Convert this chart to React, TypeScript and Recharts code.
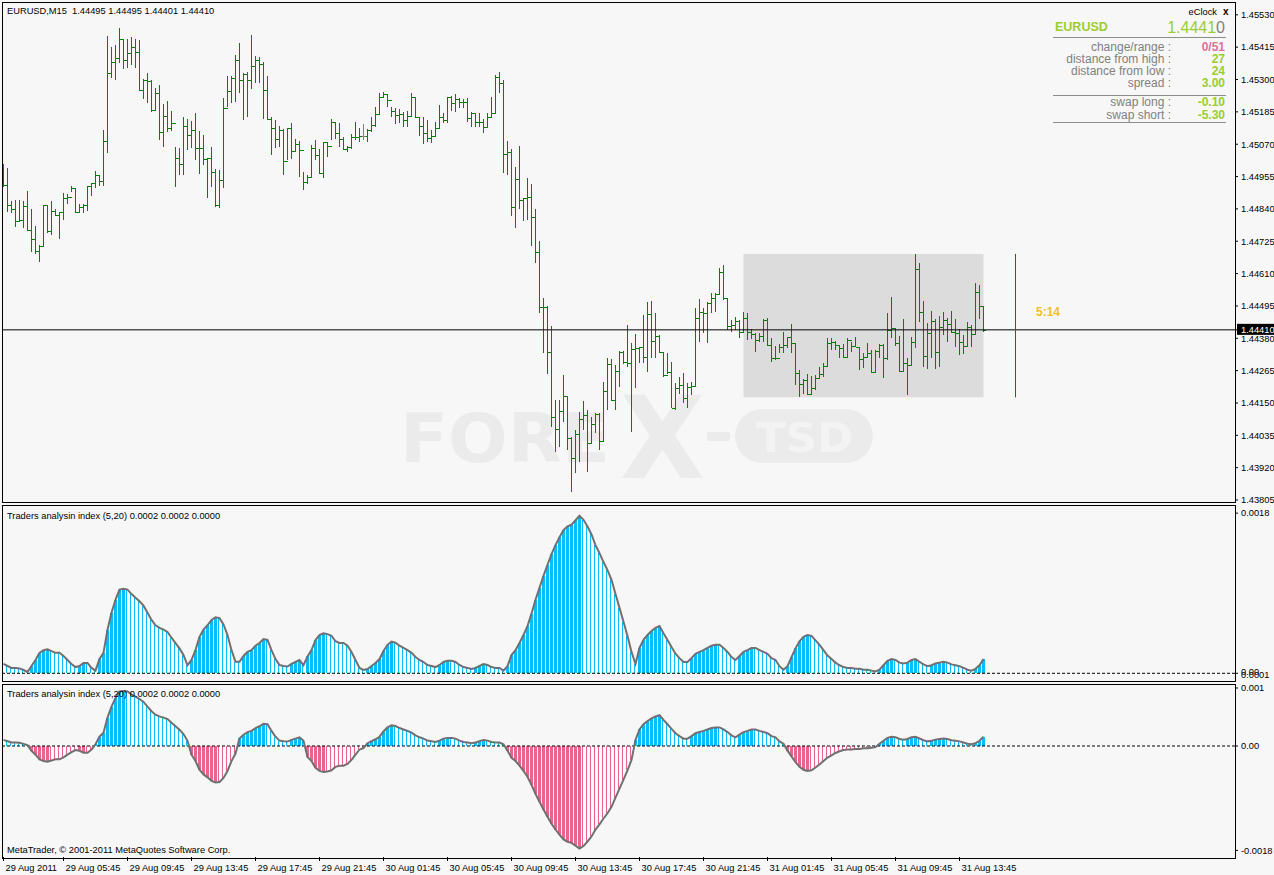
import React from 'react';
import { ComposedChart, Bar, Line, XAxis, YAxis, ReferenceLine, ReferenceArea } from 'recharts';

const FONT = "'Liberation Sans', Arial, sans-serif";

// EURUSD M15, 29 Aug 2011 02:00 .. 31 Aug 2011 15:15 (open = previous close)
const firstOpen = 1.4496;
const highs = [
  1.44999, 1.44987, 1.44868, 1.44872, 1.44872, 1.44868, 1.44904, 1.4484, 1.44779, 1.44712,
  1.44854, 1.44854, 1.44868, 1.44841, 1.44828, 1.44898, 1.44893, 1.44923, 1.44915, 1.44857,
  1.44856, 1.44921, 1.44931, 1.44975, 1.44959, 1.45121, 1.45455, 1.45417, 1.45423, 1.45482,
  1.45444, 1.45444, 1.45452, 1.45444, 1.45441, 1.45301, 1.45322, 1.45298, 1.45269, 1.45281,
  1.45213, 1.45224, 1.45188, 1.45061, 1.45058, 1.45166, 1.45159, 1.45154, 1.4518, 1.45117,
  1.45103, 1.4502, 1.45061, 1.44982, 1.44978, 1.45233, 1.45313, 1.45313, 1.45387, 1.45429,
  1.45322, 1.45328, 1.45459, 1.45384, 1.45381, 1.45361, 1.45313, 1.45168, 1.45156, 1.45135,
  1.45123, 1.45129, 1.45146, 1.45088, 1.45082, 1.44972, 1.44961, 1.45067, 1.45085, 1.45052,
  1.45079, 1.45073, 1.45159, 1.4515, 1.45144, 1.45097, 1.45064, 1.45106, 1.4515, 1.45127,
  1.45142, 1.45124, 1.45166, 1.45204, 1.45251, 1.45255, 1.45249, 1.45204, 1.45198, 1.45194,
  1.45186, 1.45189, 1.45253, 1.45237, 1.45166, 1.45168, 1.45156, 1.45121, 1.4515, 1.4521,
  1.45182, 1.45239, 1.45242, 1.45248, 1.45233, 1.4523, 1.45233, 1.45186, 1.45182, 1.4518,
  1.45159, 1.4518, 1.45239, 1.45316, 1.45326, 1.45298, 1.45082, 1.45052, 1.4499, 1.45064,
  1.4488, 1.44951, 1.44929, 1.4484, 1.44726, 1.44522, 1.44495, 1.44424, 1.4416, 1.4416,
  1.44249, 1.44175, 1.4403, 1.44054, 1.44119, 1.44157, 1.44125, 1.44099, 1.44115, 1.44115,
  1.44223, 1.44309, 1.44305, 1.44285, 1.44335, 1.44335, 1.44427, 1.44362, 1.44395, 1.4435,
  1.44463, 1.4451, 1.44513, 1.44469, 1.44392, 1.44326, 1.44326, 1.44297, 1.4422, 1.44243,
  1.44255, 1.44222, 1.44225, 1.44486, 1.44518, 1.44486, 1.4451, 1.4454, 1.4454, 1.44629,
  1.4464, 1.44522, 1.44445, 1.44454, 1.44445, 1.44474, 1.44471, 1.44412, 1.444, 1.44398,
  1.44447, 1.44451, 1.44382, 1.44352, 1.44358, 1.44403, 1.44385, 1.44431, 1.44364, 1.44267,
  1.44234, 1.44253, 1.44246, 1.44249, 1.44279, 1.44291, 1.4438, 1.4438, 1.44371, 1.44356,
  1.44359, 1.4438, 1.44368, 1.44385, 1.4435, 1.44329, 1.44362, 1.44338, 1.44338, 1.44358,
  1.44359, 1.44471, 1.44528, 1.44415, 1.44388, 1.44447, 1.44309, 1.44385, 1.4468, 1.44647,
  1.44514, 1.44435, 1.44478, 1.44447, 1.44459, 1.44474, 1.44451, 1.44478, 1.44447, 1.44412,
  1.44392, 1.44439, 1.44427, 1.44578, 1.44569, 1.44495,
];
const lows = [
  1.44919, 1.4483, 1.44824, 1.44775, 1.44793, 1.44771, 1.44762, 1.44688, 1.4468, 1.44652,
  1.44709, 1.44753, 1.44747, 1.44815, 1.44733, 1.44801, 1.44856, 1.44899, 1.44826, 1.44824,
  1.44826, 1.44834, 1.44887, 1.44913, 1.44922, 1.44922, 1.4504, 1.45305, 1.45298, 1.45358,
  1.45337, 1.4534, 1.45352, 1.4534, 1.4526, 1.4523, 1.45216, 1.45186, 1.45189, 1.45085,
  1.45061, 1.45115, 1.45117, 1.44919, 1.44961, 1.44961, 1.45049, 1.45056, 1.45014, 1.44963,
  1.44996, 1.44878, 1.44919, 1.44848, 1.44842, 1.44913, 1.45201, 1.45216, 1.45221, 1.45251,
  1.45156, 1.45168, 1.45265, 1.45287, 1.45287, 1.4516, 1.45156, 1.45032, 1.45058, 1.45061,
  1.44961, 1.45014, 1.45016, 1.45043, 1.44955, 1.44907, 1.44929, 1.44955, 1.45014, 1.44963,
  1.44949, 1.45026, 1.45085, 1.45088, 1.45059, 1.45049, 1.45042, 1.45052, 1.45085, 1.45079,
  1.45085, 1.45079, 1.45115, 1.45132, 1.45174, 1.45233, 1.45204, 1.45168, 1.45141, 1.45144,
  1.45132, 1.4513, 1.45168, 1.45163, 1.45099, 1.4507, 1.45079, 1.45073, 1.45099, 1.45127,
  1.45144, 1.45147, 1.45189, 1.45186, 1.45198, 1.45198, 1.4515, 1.45132, 1.4513, 1.45132,
  1.45111, 1.45127, 1.45166, 1.4518, 1.45251, 1.44969, 1.44961, 1.44816, 1.44771, 1.4484,
  1.44798, 1.44801, 1.44709, 1.44647, 1.44471, 1.44329, 1.44253, 1.44063, 1.43976, 1.43994,
  1.44083, 1.43983, 1.43834, 1.439, 1.43941, 1.44054, 1.43905, 1.44006, 1.44042, 1.43983,
  1.44012, 1.44125, 1.44157, 1.44125, 1.44208, 1.44288, 1.44279, 1.44048, 1.44202, 1.44291,
  1.44291, 1.44261, 1.44309, 1.44309, 1.44328, 1.44243, 1.44253, 1.44131, 1.44125, 1.44181,
  1.44149, 1.44131, 1.44178, 1.44208, 1.44368, 1.44398, 1.44362, 1.44469, 1.44474, 1.44534,
  1.44516, 1.44409, 1.44403, 1.44409, 1.4438, 1.44398, 1.44374, 1.44377, 1.44332, 1.44366,
  1.44368, 1.44352, 1.44297, 1.44303, 1.44326, 1.44326, 1.44344, 1.44326, 1.44214, 1.4417,
  1.44182, 1.44178, 1.44181, 1.44196, 1.44238, 1.44243, 1.44279, 1.44338, 1.44338, 1.44309,
  1.44309, 1.44314, 1.44332, 1.44348, 1.44267, 1.44273, 1.44309, 1.44256, 1.44255, 1.44309,
  1.44238, 1.44303, 1.4438, 1.44352, 1.44261, 1.44261, 1.44178, 1.44285, 1.44344, 1.44439,
  1.44279, 1.4427, 1.44309, 1.4427, 1.44279, 1.44392, 1.44368, 1.44398, 1.44348, 1.4432,
  1.44323, 1.4435, 1.4435, 1.44392, 1.44447, 1.44401,
];
const closes = [
  1.44925, 1.44854, 1.44839, 1.44797, 1.44801, 1.4485, 1.44765, 1.44732, 1.4469, 1.44709,
  1.44854, 1.44762, 1.44833, 1.44818, 1.44828, 1.44878, 1.44883, 1.44915, 1.4483, 1.44848,
  1.44854, 1.44921, 1.44931, 1.44959, 1.44939, 1.45082, 1.45322, 1.45364, 1.45378, 1.45443,
  1.4537, 1.45393, 1.45417, 1.45397, 1.45263, 1.45298, 1.45295, 1.45192, 1.45251, 1.45112,
  1.45171, 1.45129, 1.45144, 1.4502, 1.44999, 1.45135, 1.45103, 1.45121, 1.45056, 1.45058,
  1.45016, 1.4502, 1.4497, 1.44854, 1.44943, 1.45198, 1.45259, 1.45305, 1.4537, 1.45298,
  1.4532, 1.45298, 1.45348, 1.4537, 1.45354, 1.45263, 1.45159, 1.45127, 1.45089, 1.45121,
  1.4501, 1.45127, 1.45046, 1.45071, 1.45049, 1.44937, 1.44955, 1.45056, 1.45032, 1.44967,
  1.45077, 1.45064, 1.45148, 1.45109, 1.45088, 1.45052, 1.45059, 1.45095, 1.45097, 1.45099,
  1.45099, 1.45121, 1.45138, 1.45178, 1.45237, 1.45248, 1.45227, 1.45189, 1.45174, 1.45176,
  1.45156, 1.45171, 1.45237, 1.45166, 1.45135, 1.45109, 1.45091, 1.45099, 1.45129, 1.45168,
  1.45156, 1.45237, 1.45216, 1.4523, 1.45221, 1.45219, 1.45162, 1.4518, 1.45148, 1.4515,
  1.45132, 1.45168, 1.4518, 1.4531, 1.45289, 1.45034, 1.45043, 1.44848, 1.44946, 1.44872,
  1.44878, 1.44883, 1.4481, 1.44686, 1.4449, 1.44492, 1.4433, 1.44099, 1.44056, 1.44121,
  1.44175, 1.44024, 1.43955, 1.44038, 1.44092, 1.44107, 1.44008, 1.44074, 1.4411, 1.44016,
  1.44192, 1.44287, 1.4416, 1.44263, 1.44332, 1.44294, 1.44293, 1.44342, 1.44345, 1.4435,
  1.44314, 1.44466, 1.44371, 1.44389, 1.44332, 1.44249, 1.44261, 1.44133, 1.44202, 1.44214,
  1.44166, 1.44208, 1.44209, 1.44451, 1.44474, 1.44469, 1.44504, 1.44522, 1.44536, 1.44615,
  1.44522, 1.44424, 1.44426, 1.44441, 1.44403, 1.44452, 1.44403, 1.44395, 1.44375, 1.44388,
  1.44445, 1.44356, 1.44309, 1.44311, 1.44348, 1.44356, 1.44383, 1.44365, 1.44255, 1.44216,
  1.44231, 1.44181, 1.44202, 1.44238, 1.44253, 1.44281, 1.44364, 1.44366, 1.44356, 1.44344,
  1.44312, 1.44374, 1.44352, 1.4435, 1.44305, 1.44314, 1.44326, 1.44261, 1.44336, 1.44356,
  1.44309, 1.44409, 1.44415, 1.44362, 1.44265, 1.44291, 1.44285, 1.44366, 1.44626, 1.44474,
  1.44317, 1.44398, 1.44441, 1.4433, 1.44419, 1.44445, 1.4443, 1.44401, 1.444, 1.44368,
  1.44352, 1.44421, 1.44394, 1.44543, 1.44495, 1.4441,
];

// Traders analysin index (5,20), one value per bar
const tai = [
  1.05e-4, 0.82e-4, 0.6e-4, 0.6e-4, 0.55e-4, 0.37e-4, 0.15e-4, -0.82e-4, -1.5e-4, -2.3e-4,
  -2.6e-4, -2.7e-4, -2.5e-4, -2.3e-4, -2.3e-4, -1.95e-4, -1.5e-4, -1.05e-4, -0.7e-4, -0.82e-4,
  -1.16e-4, -1.16e-4, -0.6e-4, 0.3e-4, 1.6e-4, 2.3e-4, 4.9e-4, 6.8e-4, 8.25e-4, 9.4e-4,
  9.5e-4, 9.4e-4, 8.9e-4, 8.5e-4, 8.1e-4, 7.6e-4, 6.8e-4, 6.0e-4, 5.4e-4, 5.1e-4,
  4.9e-4, 4.65e-4, 4.0e-4, 3.4e-4, 2.8e-4, 2.05e-4, 0.9e-4, -1.5e-4, -2.6e-4, -4.1e-4,
  -4.9e-4, -5.4e-4, -6.0e-4, -6.3e-4, -6.2e-4, -5.5e-4, -4.3e-4, -2.6e-4, -1.3e-4, 1.3e-4,
  1.95e-4, 2.4e-4, 2.6e-4, 3.1e-4, 3.4e-4, 3.85e-4, 3.75e-4, 2.6e-4, 1.6e-4, 0.93e-4,
  0.82e-4, 0.76e-4, 1.05e-4, 1.27e-4, 1.5e-4, 0.9e-4, -1.9e-4, -2.6e-4, -3.75e-4, -4.3e-4,
  -4.5e-4, -4.4e-4, -4.2e-4, -3.6e-4, -3.4e-4, -3.4e-4, -3.1e-4, -2.4e-4, -1.5e-4, -0.6e-4,
  -0.37e-4, 0.48e-4, 0.82e-4, 1.16e-4, 1.6e-4, 2.5e-4, 3.2e-4, 3.55e-4, 3.45e-4, 3.1e-4,
  2.85e-4, 2.6e-4, 2.3e-4, 1.83e-4, 1.5e-4, 1.27e-4, 0.93e-4, 0.82e-4, 0.7e-4, 0.93e-4,
  1.27e-4, 1.4e-4, 1.4e-4, 1.27e-4, 0.93e-4, 0.7e-4, 0.6e-4, 0.48e-4, 0.6e-4, 0.82e-4,
  1.05e-4, 0.93e-4, 0.7e-4, 0.6e-4, 0.6e-4, 0.3e-4, -0.8e-4, -2.05e-4, -2.6e-4, -3.4e-4,
  -4.3e-4, -5.3e-4, -6.7e-4, -8.25e-4, -9.6e-4, -10.95e-4, -12.2e-4, -13.4e-4, -14.4e-4, -15.3e-4,
  -16.1e-4, -16.5e-4, -16.7e-4, -17.2e-4, -17.7e-4, -17.25e-4, -16.5e-4, -15.6e-4, -14.4e-4, -13.5e-4,
  -12.5e-4, -11.6e-4, -10.5e-4, -8.9e-4, -7.35e-4, -5.8e-4, -4.2e-4, -2.4e-4, 1.05e-4, 2.85e-4,
  3.75e-4, 4.3e-4, 4.75e-4, 5.1e-4, 5.3e-4, 4.5e-4, 3.75e-4, 2.95e-4, 2.2e-4, 1.7e-4,
  1.27e-4, 1.27e-4, 1.7e-4, 2.2e-4, 2.4e-4, 2.6e-4, 2.85e-4, 3.1e-4, 3.2e-4, 3.2e-4,
  2.85e-4, 2.4e-4, 1.83e-4, 1.5e-4, 1.95e-4, 2.4e-4, 2.6e-4, 2.85e-4, 2.85e-4, 2.6e-4,
  2.4e-4, 2.2e-4, 1.7e-4, 1.5e-4, 0.8e-4, 0.4e-4, -0.8e-4, -1.8e-4, -2.8e-4, -3.6e-4,
  -4.1e-4, -4.3e-4, -4.2e-4, -3.7e-4, -3.2e-4, -2.6e-4, -2.0e-4, -1.6e-4, -1.2e-4, -0.9e-4,
  -0.7e-4, -0.6e-4, -0.6e-4, -0.5e-4, -0.5e-4, -0.4e-4, -0.4e-4, -0.3e-4, -0.2e-4, 0.4e-4,
  0.9e-4, 1.4e-4, 1.6e-4, 1.5e-4, 1.2e-4, 1.1e-4, 1.2e-4, 1.5e-4, 1.6e-4, 1.3e-4,
  1.0e-4, 0.8e-4, 0.9e-4, 1.1e-4, 1.2e-4, 1.3e-4, 1.2e-4, 1.0e-4, 0.9e-4, 0.8e-4,
  0.6e-4, 0.4e-4, 0.3e-4, 0.5e-4, 0.9e-4, 1.6e-4,
];

const priceTicks = [
  1.43805, 1.4392, 1.44035, 1.4415, 1.44265, 1.4438, 1.44495, 1.4461,
  1.44725, 1.4484, 1.44955, 1.4507, 1.45185, 1.453, 1.45415, 1.4553,
];
const lastClose = 1.4441;
const dayHigh = 1.4468;
const dayLow = 1.4417;
const dayStartBar = 185;
const clockBar = 253;

const xTickBars = [0, 15, 31, 47, 63, 79, 95, 111, 127, 143, 159, 175, 191, 207, 223, 239];
const xTickLabels = [
  '29 Aug 2011', '29 Aug 05:45', '29 Aug 09:45', '29 Aug 13:45', '29 Aug 17:45', '29 Aug 21:45',
  '30 Aug 01:45', '30 Aug 05:45', '30 Aug 09:45', '30 Aug 13:45', '30 Aug 17:45', '30 Aug 21:45',
  '31 Aug 01:45', '31 Aug 05:45', '31 Aug 09:45', '31 Aug 13:45',
];

const CYAN = '#00bfff';
const WHITE = '#ffffff';
const PINK = '#e8668e';
const BAR_GREEN = '#008000';
const X_DOMAIN: [number, number] = [-0.125, 307.875];

const rows = closes.map((c, i) => {
  const v = tai[i];
  const pv = i > 0 ? tai[i - 1] : v;
  const a = Math.abs(v);
  const pa = Math.abs(pv);
  return {
    i,
    open: i === 0 ? firstOpen : closes[i - 1],
    high: highs[i],
    low: lows[i],
    close: c,
    v,
    a,
    ca: a > pa ? CYAN : WHITE,
    cv: v >= 0 ? (v > pv ? CYAN : WHITE) : v < pv ? PINK : WHITE,
  };
});

const OhlcShape = (p: any) => {
  const { x, y, width, height, payload } = p;
  if (y == null || !height) return <g />;
  const cx = Math.floor(x + width / 2) + 0.5;
  const k = height / (payload.high - payload.low);
  const yo = Math.round(y + (payload.high - payload.open) * k) + 0.5;
  const yc = Math.round(y + (payload.high - payload.close) * k) + 0.5;
  const col = payload.open === payload.close ? '#808080' : BAR_GREEN;
  return (
    <g stroke={col} strokeWidth={1} shapeRendering="crispEdges">
      <line x1={cx} x2={cx} y1={y} y2={y + height} />
      <line x1={cx - 2} x2={cx} y1={yo} y2={yo} />
      <line x1={cx} x2={cx + 2.5} y1={yc} y2={yc} />
    </g>
  );
};

const histShape = (colKey: 'ca' | 'cv') => (p: any) => {
  const { x, y, width, height, payload } = p;
  if (y == null || height == null) return <g />;
  const top = Math.min(y, y + height);
  const h = Math.abs(height);
  const left = Math.floor(x + width / 2) - 1;
  const col = payload[colKey];
  if (col === WHITE) {
    return (
      <g shapeRendering="crispEdges">
        <rect x={left} y={top} width={1} height={h} fill={colKey === 'ca' || payload.v >= 0 ? CYAN : PINK} />
        <rect x={left + 1} y={top} width={2} height={h} fill={WHITE} />
      </g>
    );
  }
  return <rect x={left} y={top} width={3} height={h} fill={col} shapeRendering="crispEdges" />;
};

const PriceTick = (p: any) => {
  const { x, y, payload } = p;
  const v = payload.value;
  if (v === lastClose) {
    return (
      <g>
        <rect x={x - 4} y={y - 6} width={40} height={11} fill="#000" />
        <text x={x} y={y + 3} fontSize={9.3} fill="#fff" fontFamily={FONT}>{v.toFixed(5)}</text>
      </g>
    );
  }
  return <text x={x} y={y + 3.3} fontSize={9.3} fill="#000" fontFamily={FONT}>{v.toFixed(5)}</text>;
};

const UpperTick = (p: any) => {
  const { x, y, payload } = p;
  if (payload.value === 0) {
    return (
      <g fontSize={9.3} fill="#000" fontFamily={FONT}>
        <text x={x} y={y + 5}>0.0001</text>
        <text x={x} y={y + 2}>0.00</text>
      </g>
    );
  }
  return <text x={x} y={y + 3.3} fontSize={9.3} fill="#000" fontFamily={FONT}>{payload.value.toFixed(4)}</text>;
};

const LowerTick = (p: any) => {
  const { x, y, payload } = p;
  const v = payload.value;
  const label = v === 0 ? '0.00' : v > 0 ? '0.001' : '-0.0018';
  return <text x={x} y={y + 3.3} fontSize={9.3} fill="#000" fontFamily={FONT}>{label}</text>;
};

const TimeTick = (p: any) => {
  const { x, y, payload } = p;
  const idx = xTickBars.indexOf(payload.value);
  return (
    <text x={x + 2} y={y + 7.5} fontSize={9.3} fill="#000" fontFamily={FONT}>
      {xTickLabels[idx]}
    </text>
  );
};

const abs = (top: number): React.CSSProperties => ({ position: 'absolute', left: 0, top });

export default function App() {
  const txt = { fontFamily: FONT, fontSize: 9.3, fill: '#000' };
  return (
    <div style={{ position: 'absolute', left: 0, top: 0, width: 1274, height: 875, background: '#f7f7f7', overflow: 'hidden', fontFamily: FONT }}>
      {/* watermark */}
      <svg width={1274} height={875} style={{ position: 'absolute', left: 0, top: 0 }}>
        <g fill="#ebebeb" fontFamily="'DejaVu Sans', sans-serif" fontWeight="bold">
          <text x={400} y={462} fontSize={68} textLength={210} lengthAdjust="spacingAndGlyphs">FORE</text>
          <text x={620} y={478} fontSize={114} textLength={85} lengthAdjust="spacingAndGlyphs">X</text>
          <rect x={707} y={432} width={23} height={9} rx={2} />
          <rect x={735} y={409} width={138} height={54} rx={27} />
          <text x={756} y={452} fontSize={41} fill="#f3f3f3" textLength={97} lengthAdjust="spacingAndGlyphs">TSD</text>
        </g>
      </svg>

      <div style={abs(0)}>
        <ComposedChart width={1274} height={506} data={rows} margin={{ top: 3, right: 0, bottom: 4, left: 3 }}>
          <XAxis dataKey="i" type="number" domain={X_DOMAIN} allowDataOverflow hide />
          <YAxis
            orientation="right"
            type="number"
            width={39}
            domain={[1.43798, 1.45572]}
            allowDataOverflow
            ticks={[...priceTicks, lastClose]}
            interval={0}
            tick={PriceTick}
            tickSize={3}
            tickMargin={3}
            tickLine={{ stroke: '#000' }}
            axisLine={false}
          />
          <ReferenceArea x1={dayStartBar} x2={closes.length - 1} y1={dayLow} y2={dayHigh} fill="#dcdcdc" fillOpacity={1} stroke="none" />
          <ReferenceLine y={lastClose} stroke="#000" strokeWidth={1} />
          <ReferenceLine segment={[{ x: clockBar, y: dayHigh }, { x: clockBar, y: dayLow }]} stroke={BAR_GREEN} strokeWidth={1} />
          <Bar dataKey={(d: any) => [d.low, d.high]} shape={OhlcShape} barSize={3} isAnimationActive={false} />
        </ComposedChart>
      </div>

      <div style={abs(506)}>
        <ComposedChart width={1274} height={174} data={rows} margin={{ top: 0, right: 0, bottom: 0, left: 3 }}>
          <XAxis dataKey="i" type="number" domain={X_DOMAIN} allowDataOverflow hide />
          <YAxis
            orientation="right"
            type="number"
            width={39}
            domain={[-0.0000754, 0.00188]}
            allowDataOverflow
            ticks={[0, 0.0018]}
            interval={0}
            tick={UpperTick}
            tickSize={3}
            tickMargin={3}
            tickLine={{ stroke: '#000' }}
            axisLine={false}
          />
          <Bar dataKey="a" shape={histShape('ca')} barSize={3} isAnimationActive={false} />
          <ReferenceLine y={0} stroke="#000" strokeDasharray="3 2" />
          <Line dataKey="a" type="linear" stroke="#707070" strokeWidth={2} dot={false} isAnimationActive={false} />
        </ComposedChart>
      </div>

      <div style={abs(680)}>
        <ComposedChart width={1274} height={195} data={rows} margin={{ top: 5, right: 0, bottom: 0, left: 3 }}>
          <XAxis
            dataKey="i"
            type="number"
            domain={X_DOMAIN}
            allowDataOverflow
            height={18}
            ticks={xTickBars}
            interval={0}
            tick={TimeTick}
            tickSize={4}
            tickMargin={2}
            tickLine={{ stroke: '#000' }}
            axisLine={false}
          />
          <YAxis
            orientation="right"
            type="number"
            width={39}
            domain={[-0.0019138, 0.0010517]}
            allowDataOverflow
            ticks={[0.001, 0, -0.0018]}
            interval={0}
            tick={LowerTick}
            tickSize={3}
            tickMargin={3}
            tickLine={{ stroke: '#000' }}
            axisLine={false}
          />
          <Bar dataKey="v" shape={histShape('cv')} barSize={3} isAnimationActive={false} />
          <ReferenceLine y={0} stroke="#000" strokeDasharray="3 2" />
          <Line dataKey="v" type="linear" stroke="#707070" strokeWidth={2} dot={false} isAnimationActive={false} />
        </ComposedChart>
      </div>

      {/* frames and text overlay */}
      <svg width={1274} height={875} style={{ position: 'absolute', left: 0, top: 0, pointerEvents: 'none' }}>
        <g fill="none" stroke="#000" shapeRendering="crispEdges">
          <rect x={2.5} y={2.5} width={1233} height={500} />
          <rect x={2.5} y={505.5} width={1233} height={176} />
          <rect x={2.5} y={684.5} width={1233} height={174} />
        </g>
        <text x={7} y={14} {...txt} style={{ whiteSpace: 'pre' }}>EURUSD,M15  1.44495 1.44495 1.44401 1.44410</text>
        <text x={7} y={519} {...txt}>Traders analysin index (5,20) 0.0002 0.0002 0.0000</text>
        <text x={7} y={697} {...txt}>Traders analysin index (5,20) 0.0002 0.0002 0.0000</text>
        <text x={7} y={852.5} {...txt}>MetaTrader, © 2001-2011 MetaQuotes Software Corp.</text>

        {/* eClock panel */}
        <text x={1217} y={14.5} {...txt} textAnchor="end">eClock</text>
        <text x={1223} y={14.5} fontFamily={FONT} fontSize={10} fontWeight="bold" fill="#000">x</text>
        <text x={1055} y={30.5} fontFamily={FONT} fontSize={12.5} fontWeight="bold" fill="#9acd32">EURUSD</text>
        <text x={1225} y={32.5} fontFamily={FONT} fontSize={16} textAnchor="end" fill="#9acd32">
          1.4441<tspan fill="#7f7f7f">0</tspan>
        </text>
        <g stroke="#8c8c8c" shapeRendering="crispEdges">
          <line x1={1053} x2={1226} y1={37.5} y2={37.5} />
          <line x1={1053} x2={1226} y1={95.5} y2={95.5} />
          <line x1={1053} x2={1226} y1={122.5} y2={122.5} />
        </g>
        <g fontFamily={FONT} fontSize={12} fill="#808080" textAnchor="end">
          <text x={1171} y={51}>change/range :</text>
          <text x={1171} y={63}>distance from high :</text>
          <text x={1171} y={75}>distance from low :</text>
          <text x={1171} y={87}>spread :</text>
          <text x={1171} y={106}>swap long :</text>
          <text x={1171} y={118.5}>swap short :</text>
        </g>
        <g fontFamily={FONT} fontSize={12} fontWeight="bold" fill="#9acd32" textAnchor="end">
          <text x={1225} y={51} fill="#e0709a">0/51</text>
          <text x={1225} y={63}>27</text>
          <text x={1225} y={75}>24</text>
          <text x={1225} y={87}>3.00</text>
          <text x={1225} y={106}>-0.10</text>
          <text x={1225} y={118.5}>-5.30</text>
        </g>
        <text x={1036} y={315.5} fontFamily={FONT} fontSize={12} fontWeight="bold" fill="#f2c21b">5:14</text>
      </svg>
    </div>
  );
}
